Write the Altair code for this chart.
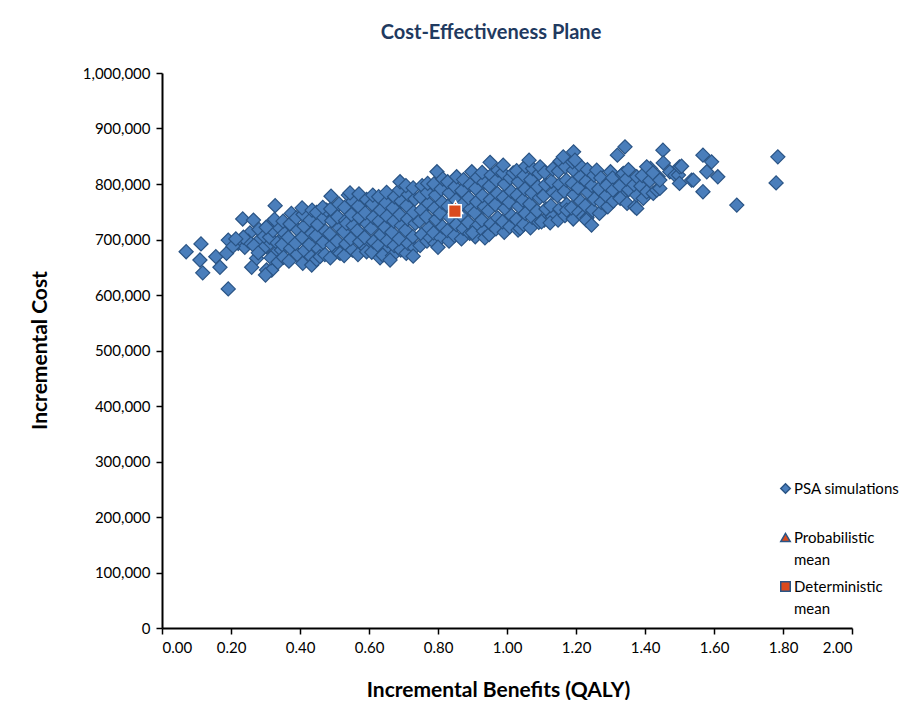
import altair as alt
import pandas as pd

# PSA simulations: (incremental QALY, incremental cost in thousands)
psa_left = [
    (0.07, 678), (0.113, 692), (0.11, 663), (0.118, 640), (0.192, 611), (0.156, 669),
    (0.168, 650), (0.192, 699), (0.187, 675), (0.234, 737), (0.265, 735), (0.221, 693),
    (0.255, 712), (0.24, 686), (0.274, 666), (0.26, 650), (0.303, 645), (0.318, 645),
    (0.30, 636), (0.328, 761), (0.31, 726), (0.284, 700), (0.303, 687), (0.328, 675),
    (0.342, 699), (0.25, 697), (0.266, 689), (0.281, 718), (0.292, 683), (0.296, 706),
    (0.312, 704), (0.322, 716), (0.334, 694), (0.341, 721), (0.316, 667), (0.279, 676),
    (0.236, 704), (0.206, 688), (0.214, 701), (0.302, 722), (0.326, 736), (0.346, 681),
    (0.336, 659),
]
psa_mid = [
    (0.352, 668), (0.348, 691), (0.355, 711), (0.351, 733),
    (0.368, 661), (0.373, 684), (0.366, 704), (0.371, 728), (0.375, 747),
    (0.392, 673), (0.387, 693), (0.394, 717), (0.389, 739),
    (0.408, 657), (0.413, 680), (0.406, 704), (0.412, 724), (0.409, 745), (0.406, 757),
    (0.432, 669), (0.427, 691), (0.434, 711), (0.429, 735), (0.435, 753), (0.434, 654),
    (0.448, 664), (0.453, 683), (0.446, 707), (0.451, 727), (0.448, 749), (0.458, 669),
    (0.472, 673), (0.467, 695), (0.474, 715), (0.469, 739), (0.477, 753), (0.466, 758),
    (0.488, 667), (0.493, 690), (0.486, 710), (0.492, 734), (0.489, 755), (0.49, 778),
    (0.512, 677), (0.507, 697), (0.514, 721), (0.509, 741), (0.513, 764), (0.516, 675),
    (0.528, 671), (0.533, 692), (0.526, 714), (0.532, 734), (0.529, 758), (0.535, 729), (0.54, 780),
    (0.552, 681), (0.547, 701), (0.554, 725), (0.549, 745), (0.553, 769), (0.545, 784),
    (0.568, 673), (0.573, 696), (0.566, 716), (0.572, 740), (0.569, 760), (0.571, 782),
    (0.592, 684), (0.587, 704), (0.594, 728), (0.589, 748), (0.593, 772), (0.593, 678),
    (0.608, 677), (0.613, 696), (0.606, 720), (0.612, 740), (0.609, 764), (0.611, 780),
    (0.632, 667), (0.627, 689), (0.634, 709), (0.629, 733), (0.633, 753), (0.628, 777),
    (0.648, 679), (0.653, 698), (0.646, 722), (0.652, 742), (0.649, 766), (0.651, 785), (0.64, 672),
    (0.668, 671), (0.673, 689), (0.666, 713), (0.672, 733), (0.669, 757), (0.674, 777), (0.661, 663),
    (0.692, 681), (0.687, 701), (0.694, 725), (0.689, 745), (0.693, 769), (0.688, 789), (0.69, 804),
    (0.708, 675), (0.713, 693), (0.706, 717), (0.712, 737), (0.709, 761), (0.714, 781), (0.707, 797),
    (0.732, 685), (0.727, 705), (0.734, 729), (0.729, 749), (0.733, 773), (0.728, 793), (0.728, 670),
    (0.748, 689), (0.753, 709), (0.746, 733), (0.752, 753), (0.749, 777), (0.754, 797),
    (0.768, 697), (0.773, 721), (0.766, 741), (0.772, 765), (0.769, 785), (0.77, 801), (0.777, 703),
    (0.792, 693), (0.787, 712), (0.794, 736), (0.789, 756), (0.793, 780), (0.788, 800), (0.797, 822),
    (0.808, 703), (0.813, 723), (0.806, 747), (0.812, 767), (0.809, 791), (0.814, 809), (0.80, 686),
    (0.832, 697), (0.827, 716), (0.834, 740), (0.829, 760), (0.833, 784), (0.828, 804),
    (0.848, 707), (0.853, 727), (0.846, 751), (0.852, 771), (0.849, 795), (0.854, 813),
    (0.868, 701), (0.873, 720), (0.866, 744), (0.872, 764), (0.869, 788), (0.874, 808),
    (0.892, 711), (0.887, 731), (0.894, 755), (0.889, 775), (0.893, 799), (0.898, 822),
]
psa_right = [
    (0.908, 705), (0.913, 724), (0.906, 748), (0.912, 768), (0.909, 792), (0.914, 812), (0.90, 712),
    (0.932, 715), (0.927, 735), (0.934, 759), (0.929, 779), (0.933, 803), (0.928, 821), (0.936, 703),
    (0.948, 709), (0.953, 728), (0.946, 752), (0.952, 772), (0.949, 796), (0.954, 816), (0.951, 839),
    (0.968, 719), (0.973, 739), (0.966, 763), (0.972, 783), (0.969, 807), (0.974, 825),
    (0.992, 713), (0.987, 732), (0.994, 756), (0.989, 776), (0.993, 800), (0.988, 820), (0.989, 834),
    (1.008, 723), (1.013, 743), (1.006, 767), (1.012, 787), (1.009, 811), (1.018, 820),
    (1.032, 717), (1.027, 736), (1.034, 760), (1.029, 780), (1.033, 804), (1.028, 824), (1.038, 720),
    (1.048, 727), (1.053, 747), (1.046, 771), (1.052, 791), (1.049, 815), (1.054, 832),
    (1.068, 721), (1.073, 740), (1.066, 764), (1.072, 784), (1.069, 808), (1.074, 828), (1.064, 843),
    (1.092, 731), (1.087, 751), (1.094, 775), (1.089, 795), (1.093, 819), (1.096, 831),
    (1.108, 735), (1.113, 755), (1.106, 779), (1.112, 799), (1.109, 821), (1.10, 732),
    (1.132, 741), (1.127, 761), (1.134, 785), (1.129, 805), (1.133, 827), (1.125, 730),
    (1.148, 735), (1.153, 755), (1.146, 779), (1.152, 799), (1.149, 823), (1.154, 841),
    (1.168, 743), (1.173, 763), (1.166, 787), (1.172, 807), (1.169, 831), (1.163, 849), (1.173, 753),
    (1.192, 737), (1.187, 757), (1.194, 781), (1.189, 801), (1.193, 825), (1.19, 840), (1.193, 858),
    (1.208, 749), (1.213, 769), (1.206, 793), (1.212, 813), (1.209, 835), (1.197, 843), (1.221, 741),
    (1.232, 739), (1.227, 761), (1.234, 785), (1.229, 805), (1.233, 826), (1.23, 735),
    (1.248, 753), (1.253, 773), (1.246, 797), (1.252, 816), (1.245, 726), (1.26, 825),
    (1.268, 747), (1.273, 767), (1.266, 791), (1.272, 811),
    (1.292, 759), (1.287, 779), (1.294, 803), (1.289, 798), (1.30, 822),
    (1.308, 769), (1.313, 789), (1.306, 811), (1.32, 852), (1.307, 789),
    (1.332, 777), (1.327, 797), (1.334, 817), (1.328, 774), (1.342, 867), (1.337, 819),
    (1.348, 765), (1.353, 790), (1.346, 809), (1.352, 826),
    (1.371, 759), (1.376, 780), (1.368, 799), (1.376, 813), (1.376, 756),
    (1.395, 774), (1.388, 796), (1.392, 815),
    (1.405, 786), (1.414, 806), (1.416, 828), (1.405, 831),
    (1.424, 783), (1.434, 789), (1.438, 813), (1.423, 820), (1.443, 792), (1.443, 807),
    (1.452, 861), (1.453, 838), (1.472, 822), (1.487, 816), (1.497, 816), (1.50, 831),
    (1.50, 801), (1.506, 832), (1.535, 807), (1.54, 807), (1.568, 852), (1.593, 840),
    (1.579, 822), (1.611, 813), (1.568, 786), (1.666, 762), (1.785, 849), (1.78, 802),
]

series_names = ["PSA simulations", "Probabilistic mean", "Deterministic mean"]
series_colors = ["#4A7EBB", "#DA4A1E", "#DA4A1E"]
series_shapes = ["diamond", "triangle-up", "square"]

mean_qaly = [0.851, 0.849]
mean_cost_k = [758, 751]

x_ticks = [0.0, 0.2, 0.4, 0.6, 0.8, 1.0, 1.2, 1.4, 1.6, 1.8, 2.0]
y_ticks = [0, 100000, 200000, 300000, 400000, 500000, 600000, 700000, 800000, 900000, 1000000]

psa_all = psa_left + psa_mid + psa_right
psa_df = pd.DataFrame({
    "qaly": [p[0] for p in psa_all],
    "cost": [p[1] * 1000 for p in psa_all],
    "series": series_names[0],
})
mean_df = pd.DataFrame({
    "qaly": mean_qaly,
    "cost": [c * 1000 for c in mean_cost_k],
    "series": series_names[1:],
})

FONT = "Lato"

legend = alt.Legend(
    title=None,
    orient="none",
    legendX=616,
    legendY=408,
    symbolSize=90,
    labelFontSize=15,
    labelFont=FONT,
    labelColor="#000000",
    labelOffset=1,
    rowPadding=10,
    gridAlign="all",
    labelExpr="datum.label == 'PSA simulations' ? [datum.label, ' '] : split(datum.label, ' ')",
)

x_enc = alt.X(
    "qaly:Q",
    scale=alt.Scale(domain=[0, 2], nice=False),
    axis=alt.Axis(
        values=x_ticks, format=".2f", title="Incremental Benefits (QALY)",
        titleX=336, titleY=62, titleBaseline="middle",
    ),
)
y_enc = alt.Y(
    "cost:Q",
    scale=alt.Scale(domain=[0, 1000000], nice=False),
    axis=alt.Axis(
        values=y_ticks, format=",.0f", title="Incremental Cost",
        titleX=-122, titleY=277, titleBaseline="middle", titleAngle=270,
    ),
)
color_enc = alt.Color(
    "series:N",
    scale=alt.Scale(domain=series_names, range=series_colors),
    legend=legend,
)
shape_enc = alt.Shape(
    "series:N",
    scale=alt.Scale(domain=series_names, range=series_shapes),
    legend=legend,
)

psa = alt.Chart(psa_df).mark_point(
    filled=True, size=200, opacity=1, stroke="#2A5485", strokeWidth=1.2
).encode(x=x_enc, y=y_enc, color=color_enc, shape=shape_enc)

prob = alt.Chart(mean_df).transform_filter(
    alt.datum.series == series_names[1]
).mark_point(
    filled=True, size=200, opacity=1, stroke="#FFFFFF", strokeWidth=1.5
).encode(x=x_enc, y=y_enc, color=color_enc, shape=shape_enc)

det = alt.Chart(mean_df).transform_filter(
    alt.datum.series == series_names[2]
).mark_point(
    filled=True, size=160, opacity=1, stroke="#FFFFFF", strokeWidth=1.5
).encode(x=x_enc, y=y_enc, color=color_enc, shape=shape_enc)

chart = (
    alt.layer(psa, prob, det)
    .properties(
        width=690,
        height=555,
        autosize=alt.AutoSizeParams(type="none"),
        padding={"left": 154, "top": 65, "right": 59, "bottom": 72},
        title=alt.Title(
            "Cost-Effectiveness Plane",
            font=FONT, fontSize=20, fontWeight="bold", color="#1F3A60",
            anchor="middle", offset=23, dx=-16,
        ),
    )
    .configure(style={"guide-label": {"lineHeight": 22}})
    .configure_view(strokeWidth=0)
    .configure_axis(
        grid=False,
        labelFont=FONT,
        labelFontSize=15,
        labelColor="#000000",
        titleFont=FONT,
        titleFontSize=21,
        titleFontWeight="bold",
        titleColor="#000000",
        domainColor="#000000",
        domainWidth=2,
        tickColor="#000000",
        tickWidth=1.5,
        tickSize=6,
        labelPadding=6,
    )
)

chart.save("out.html", embed_options={"renderer": "svg", "actions": False})
